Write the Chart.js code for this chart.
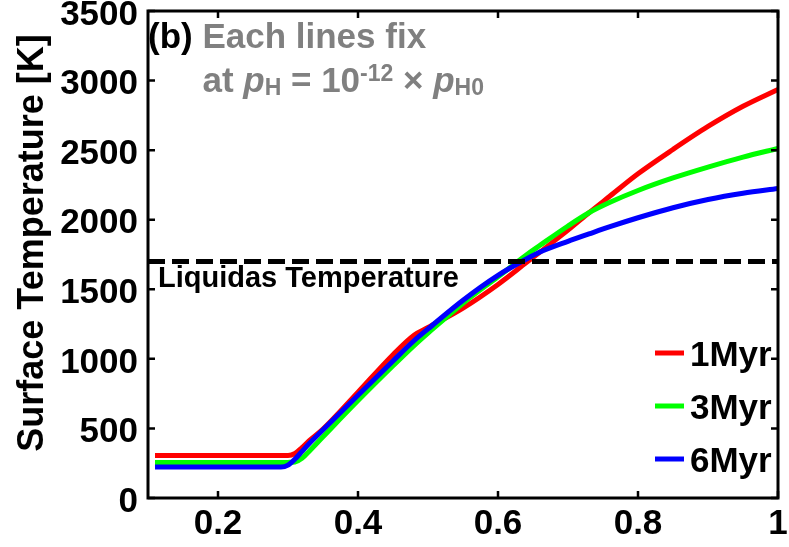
<!DOCTYPE html>
<html>
<head>
<meta charset="utf-8">
<script src="https://cdn.jsdelivr.net/npm/chart.js@4.4.1/dist/chart.umd.min.js"></script>
<style>
  html, body { margin: 0; padding: 0; background: #fff; }
  #wrap { width: 789px; height: 547px; }
</style>
</head>
<body>
<div id="wrap"><canvas id="c" width="789" height="547"></canvas></div>
<script>
// Hydrogen pressure fraction (x) and surface temperature [K] of each run
const xValues = [0.11, 0.20, 0.28, 0.29, 0.30, 0.31, 0.32, 0.33, 0.35, 0.40, 0.45, 0.48, 0.50,
                 0.55, 0.60, 0.64, 0.66, 0.70, 0.73, 0.76, 0.80, 0.85, 0.90, 0.95, 1.00];
const temp1Myr = [305, 305, 305, 305, 305, 320, 362, 410, 495, 760, 1030, 1170, 1225,
                  1365, 1535, 1690, 1768, 1925, 2050, 2170, 2330, 2505, 2670, 2815, 2936];
const temp3Myr = [255, 255, 255, 255, 256, 259, 285, 335, 440, 700, 950, 1095, 1185,
                  1400, 1590, 1745, 1816, 1955, 2050, 2125, 2210, 2300, 2378, 2450, 2512];
const temp6Myr = [222, 222, 222, 222, 236, 280, 335, 390, 490, 738, 985, 1130, 1215,
                  1421, 1600, 1716, 1768, 1845, 1898, 1950, 2014, 2086, 2145, 2190, 2224];

const seriesLabels = ['1Myr', '3Myr', '6Myr'];
const seriesColors = ['#ff0000', '#00ff00', '#0000ff'];

const liquidusTemp = 1700;
const liquidusLabel = 'Liquidas Temperature';

const xTicks = [0.2, 0.4, 0.6, 0.8, 1];
const xTickLabels = ['0.2', '0.4', '0.6', '0.8', '1'];
const yTicks = [0, 500, 1000, 1500, 2000, 2500, 3000, 3500];
const yTickLabels = ['0', '500', '1000', '1500', '2000', '2500', '3000', '3500'];
const yTitle = 'Surface Temperature [K]';

const FONT = "'Liberation Sans', Helvetica, Arial, sans-serif";

function toPoints(values) {
  return values.map((v, i) => ({ x: xValues[i], y: v }));
}

const seriesData = [temp1Myr, temp3Myr, temp6Myr];
const datasets = seriesData.map((vals, i) => ({
  label: seriesLabels[i],
  data: toPoints(vals),
  borderColor: seriesColors[i],
  borderWidth: 5,
  pointRadius: 0,
  cubicInterpolationMode: 'monotone',
  fill: false,
  order: 3 - i
}));
datasets.push({
  label: liquidusLabel,
  data: [{ x: 0.1, y: liquidusTemp }, { x: 1, y: liquidusTemp }],
  borderColor: '#000',
  borderWidth: 5,
  borderDash: [17, 7],
  pointRadius: 0,
  fill: false,
  order: 0
});

// frame with inward ticks, axis title, annotations and legend
const decorPlugin = {
  id: 'decor',
  afterDatasetsDraw(chart) {
    const { ctx, chartArea: a, scales: { x, y } } = chart;
    ctx.save();
    ctx.strokeStyle = '#000';
    ctx.lineWidth = 2.5;
    ctx.beginPath();
    xTicks.forEach(v => {
      const px = x.getPixelForValue(v);
      ctx.moveTo(px, a.bottom); ctx.lineTo(px, a.bottom - 7);
      ctx.moveTo(px, a.top); ctx.lineTo(px, a.top + 7);
    });
    yTicks.forEach(v => {
      const py = y.getPixelForValue(v);
      ctx.moveTo(a.left, py); ctx.lineTo(a.left + 7, py);
      ctx.moveTo(a.right, py); ctx.lineTo(a.right - 7, py);
    });
    ctx.stroke();
    ctx.lineWidth = 3;
    ctx.strokeRect(a.left, a.top, a.right - a.left, a.bottom - a.top);

    // y axis title
    ctx.save();
    ctx.translate(30, 243);
    ctx.rotate(-Math.PI / 2);
    ctx.fillStyle = '#000';
    ctx.font = 'bold 36px ' + FONT;
    ctx.textAlign = 'center';
    ctx.textBaseline = 'alphabetic';
    ctx.fillText(yTitle, 0, 13);
    ctx.restore();

    // liquidus label
    ctx.fillStyle = '#000';
    ctx.font = 'bold 29px ' + FONT;
    ctx.textAlign = 'left';
    ctx.textBaseline = 'alphabetic';
    ctx.fillText(liquidusLabel, a.left + 10, y.getPixelForValue(liquidusTemp) + 26);

    // panel annotation
    const big = 'bold 35px ' + FONT;
    const bigIt = 'italic bold 35px ' + FONT;
    const small = 'bold 23px ' + FONT;
    ctx.font = big;
    ctx.fillStyle = '#000';
    const x0 = a.left;
    const line1 = a.top + 37;
    ctx.fillText('(b)', x0, line1);
    const x1 = x0 + ctx.measureText('(b) ').width;
    ctx.fillStyle = '#808080';
    ctx.fillText('Each lines fix', x1, line1);
    const line2 = line1 + 44;
    const parts = [
      { t: 'at ', f: big, dy: 0 },
      { t: 'p', f: bigIt, dy: 0 },
      { t: 'H', f: small, dy: 3 },
      { t: ' = 10', f: big, dy: 0 },
      { t: '-12', f: small, dy: -11 },
      { t: ' \u00d7 ', f: big, dy: 0 },
      { t: 'p', f: bigIt, dy: 0 },
      { t: 'H0', f: small, dy: 3 }
    ];
    let cx = x1;
    parts.forEach(p => {
      ctx.font = p.f;
      ctx.fillText(p.t, cx, line2 + p.dy);
      cx += ctx.measureText(p.t).width;
    });

    // legend
    ctx.font = 'bold 35px ' + FONT;
    ctx.lineWidth = 5;
    seriesLabels.forEach((lab, i) => {
      const ly = a.bottom - 145 + i * 53;
      ctx.strokeStyle = seriesColors[i];
      ctx.beginPath();
      ctx.moveTo(a.right - 123, ly);
      ctx.lineTo(a.right - 94, ly);
      ctx.stroke();
      ctx.fillStyle = '#000';
      ctx.fillText(lab, a.right - 88, ly + 12.5);
    });
    ctx.restore();
  }
};

new Chart(document.getElementById('c'), {
  type: 'line',
  data: { datasets },
  options: {
    responsive: false,
    animation: false,
    devicePixelRatio: 1,
    layout: { padding: { left: 0, right: 11, top: 11, bottom: 0 } },
    plugins: { legend: { display: false }, tooltip: { enabled: false } },
    scales: {
      x: {
        type: 'linear',
        min: 0.1,
        max: 1,
        grid: { display: false, drawTicks: false },
        border: { display: false },
        afterBuildTicks: s => { s.ticks = xTicks.map(v => ({ value: v })); },
        afterFit: s => { s.height = 49; s.paddingLeft = 0; s.paddingRight = 0; },
        ticks: {
          color: '#000',
          font: { family: FONT, size: 35, weight: 'bold' },
          padding: 5,
          maxRotation: 0,
          autoSkip: false,
          callback: (v, i) => xTickLabels[i]
        }
      },
      y: {
        type: 'linear',
        min: 0,
        max: 3500,
        grid: { display: false, drawTicks: false },
        border: { display: false },
        afterBuildTicks: s => { s.ticks = yTicks.map(v => ({ value: v })); },
        afterFit: s => { s.width = 148; s.paddingTop = 0; s.paddingBottom = 0; },
        ticks: {
          color: '#000',
          font: { family: FONT, size: 35, weight: 'bold' },
          padding: 10,
          labelOffset: 4,
          autoSkip: false,
          callback: (v, i) => yTickLabels[i]
        }
      }
    }
  },
  plugins: [decorPlugin]
});
</script>
</body>
</html>
